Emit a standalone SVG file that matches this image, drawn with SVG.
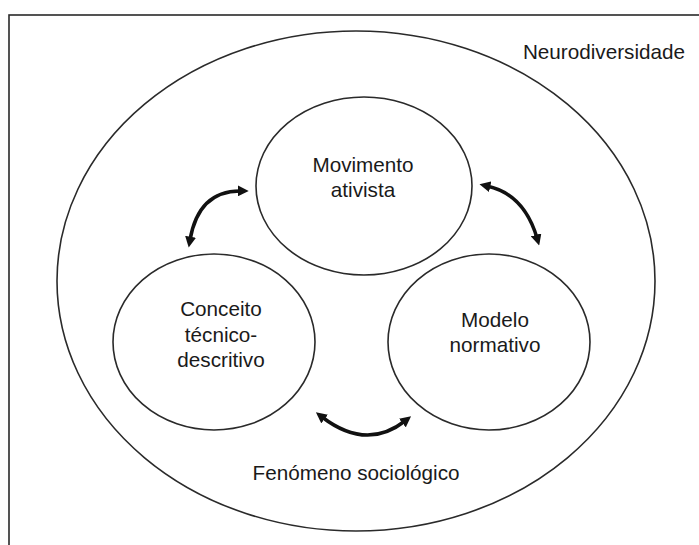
<svg xmlns="http://www.w3.org/2000/svg" width="699" height="545" viewBox="0 0 699 545">
<style>
.shape{fill:none;stroke:#2a2a2a;stroke-width:1.6}
.lbl{font-family:"Liberation Sans",Arial,sans-serif;font-size:20.7px;fill:#1a1a1a;text-anchor:middle}
.arrow{fill:none;stroke:#111;stroke-width:3.5}
</style>
<defs>
<marker id="ah" viewBox="0 0 10 10" refX="3" refY="5" markerWidth="11" markerHeight="11" markerUnits="userSpaceOnUse" orient="auto-start-reverse">
<path d="M0,0 L10,5 L0,10 z" fill="#111"/>
</marker>
</defs>
<rect width="699" height="545" fill="#fff"/>
<g id="frame">
<rect class="shape" x="9" y="15" width="700" height="545"/>
</g>
<g id="neurodiversidade">
<ellipse class="shape" cx="356" cy="281" rx="299" ry="250"/>
<text class="lbl" x="604" y="59">Neurodiversidade</text>
<text class="lbl" x="356" y="480">Fenómeno sociológico</text>
</g>
<g id="movimento">
<ellipse class="shape" cx="364" cy="186" rx="108" ry="89"/>
<text class="lbl" x="363" y="172">Movimento</text>
<text class="lbl" x="363" y="197">ativista</text>
</g>
<g id="conceito">
<ellipse class="shape" cx="214" cy="342" rx="101" ry="88"/>
<text class="lbl" x="221" y="316">Conceito</text>
<text class="lbl" x="221" y="342">técnico-</text>
<text class="lbl" x="221" y="367">descritivo</text>
</g>
<g id="modelo">
<ellipse class="shape" cx="489" cy="342" rx="101" ry="88"/>
<text class="lbl" x="495" y="327">Modelo</text>
<text class="lbl" x="495" y="352">normativo</text>
</g>
<g id="connectors">
<path class="arrow" d="M190,240 Q198.5,190.5 241,191" marker-start="url(#ah)" marker-end="url(#ah)"/>
<path class="arrow" d="M487,186 Q524,194 537,238" marker-start="url(#ah)" marker-end="url(#ah)"/>
<path class="arrow" d="M322,417 Q366.5,451 405,421" marker-start="url(#ah)" marker-end="url(#ah)"/>
</g>
</svg>
